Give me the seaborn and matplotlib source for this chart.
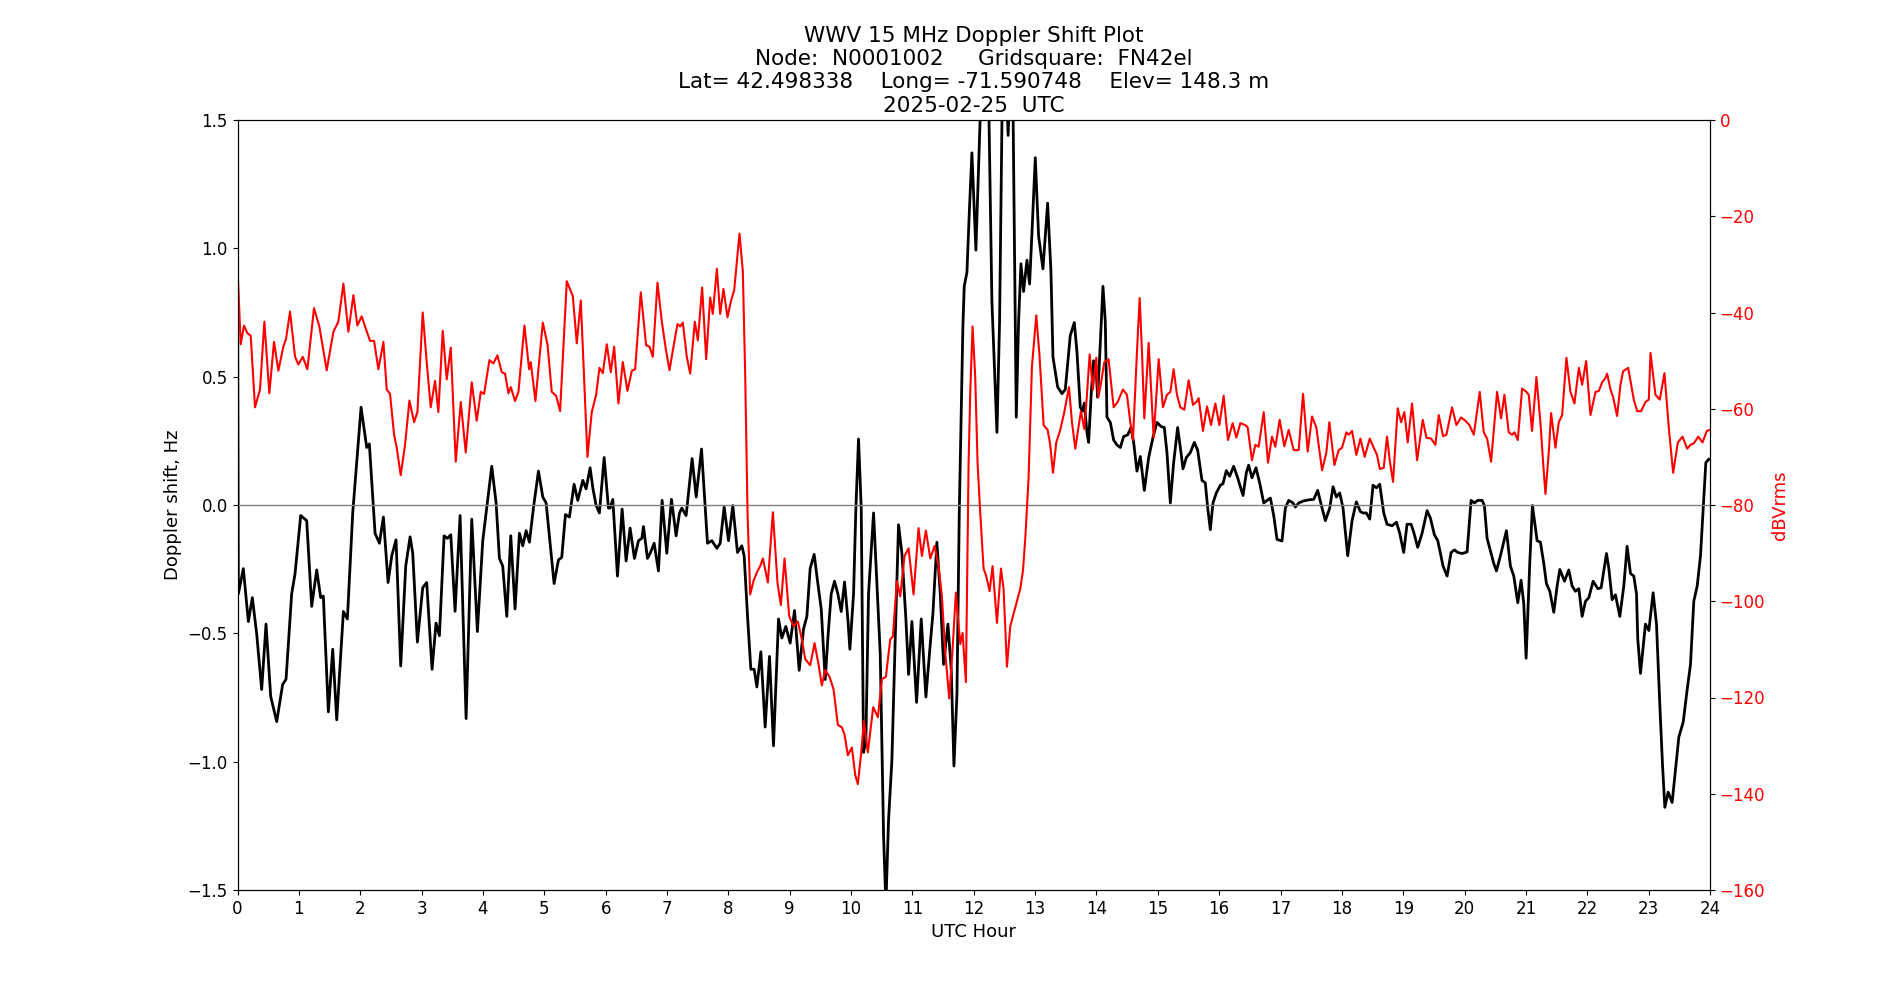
import matplotlib
matplotlib.use('Agg')
import matplotlib.pyplot as plt
import seaborn as sns

# Doppler 频移 (Hz)，按UTC小时读取
doppler_hours = [
    0.000, 0.014, 0.095, 0.177, 0.242, 0.313, 0.394, 0.465, 0.541, 0.639, 0.736, 0.791, 0.883, 0.938,
    1.030, 1.128, 1.209, 1.291, 1.356, 1.399, 1.481, 1.552, 1.617, 1.726, 1.791, 1.878, 2.014, 2.106,
    2.149, 2.242, 2.313, 2.378, 2.454, 2.514, 2.584, 2.660, 2.742, 2.813, 2.856, 2.932,
    3.019, 3.084, 3.171, 3.236, 3.291, 3.367, 3.421, 3.476, 3.546, 3.628, 3.726, 3.818, 3.910, 3.997,
    4.062, 4.144, 4.215, 4.269, 4.323, 4.389, 4.454, 4.524, 4.595, 4.649, 4.704, 4.758, 4.823, 4.905,
    4.976, 5.030, 5.095, 5.160, 5.231, 5.285, 5.345, 5.410, 5.486, 5.546, 5.628, 5.682, 5.747,
    5.791, 5.845, 5.899, 5.976, 6.046, 6.073, 6.117, 6.193, 6.269, 6.334, 6.399, 6.470, 6.535, 6.590,
    6.617, 6.682, 6.726, 6.791, 6.861, 6.921, 6.997, 7.073, 7.149, 7.204, 7.242, 7.312, 7.410, 7.476,
    7.563, 7.660, 7.731, 7.813, 7.867, 7.932, 8.003, 8.073, 8.149, 8.220, 8.258, 8.313, 8.367, 8.421,
    8.465, 8.530, 8.600, 8.671, 8.736,
    8.818, 8.872, 8.937, 9.008, 9.079, 9.155, 9.226, 9.280, 9.334, 9.399, 9.459, 9.514, 9.579, 9.633,
    9.677, 9.731, 9.785, 9.840, 9.894, 9.948, 9.981, 10.041, 10.079, 10.122, 10.166, 10.204, 10.242,
    10.285, 10.367, 10.421, 10.476, 10.530, 10.568, 10.611, 10.666, 10.720, 10.774, 10.829, 10.894,
    10.938, 10.992, 11.068, 11.144, 11.220, 11.291, 11.334, 11.399, 11.454, 11.508, 11.579, 11.633,
    11.677, 11.726, 11.764,
    11.823, 11.845, 11.889, 11.932, 11.970, 12.035, 12.079, 12.117, 12.171, 12.242, 12.296, 12.378,
    12.421, 12.465, 12.510, 12.560, 12.600, 12.640, 12.693, 12.731, 12.769, 12.812, 12.867, 12.910,
    12.948, 13.003, 13.057, 13.128, 13.204, 13.258, 13.291, 13.329, 13.367, 13.438, 13.492, 13.530,
    13.573, 13.639, 13.682, 13.736, 13.774, 13.802, 13.845, 13.872, 13.916, 13.954, 13.997, 14.019,
    14.052, 14.106, 14.144, 14.171, 14.226, 14.280, 14.334, 14.389, 14.443, 14.508, 14.563, 14.606,
    14.660, 14.715,
    14.780, 14.851, 14.921, 14.986, 15.052, 15.106, 15.149, 15.204, 15.258, 15.323, 15.378, 15.410,
    15.465, 15.530, 15.595, 15.649, 15.720, 15.774, 15.813, 15.856, 15.899, 15.954, 16.019, 16.062,
    16.117, 16.171, 16.236, 16.302, 16.345, 16.389, 16.443, 16.481, 16.535, 16.601, 16.660, 16.726,
    16.780, 16.835, 16.889, 16.943, 17.024, 17.079, 17.133, 17.204, 17.242, 17.296, 17.378, 17.459,
    17.541, 17.606, 17.677, 17.731, 17.802, 17.856,
    17.910, 17.965, 18.019, 18.095, 18.166, 18.236, 18.302, 18.345, 18.399, 18.454, 18.508, 18.563,
    18.617, 18.682, 18.736, 18.818, 18.889, 18.943, 19.008, 19.062, 19.128, 19.171, 19.236, 19.307,
    19.389, 19.443, 19.508, 19.563, 19.606, 19.649, 19.715, 19.780, 19.834, 19.889, 19.959, 20.041,
    20.106, 20.160, 20.215, 20.285, 20.323, 20.367, 20.421, 20.476, 20.519, 20.584,
    20.682, 20.747, 20.802, 20.867, 20.921, 20.965, 21.003, 21.062, 21.106, 21.182, 21.236, 21.291,
    21.334, 21.389, 21.454, 21.508, 21.552, 21.628, 21.698, 21.753, 21.807, 21.862, 21.916, 21.971,
    22.025, 22.095, 22.171, 22.226, 22.313, 22.351, 22.405, 22.459, 22.530, 22.595, 22.649, 22.704,
    22.758, 22.802, 22.823, 22.867, 22.910, 22.948, 23.003, 23.073, 23.128, 23.182, 23.226, 23.264,
    23.318, 23.383, 23.438, 23.492, 23.563, 23.628, 23.682, 23.736, 23.791, 23.845, 23.889, 23.932,
    23.981, 24.000,
]
doppler_hz = [
    0.98, -0.346, -0.248, -0.454, -0.361, -0.503, -0.719, -0.464, -0.746, -0.844, -0.699, -0.679, -0.346, -0.267,
    -0.041, -0.061, -0.395, -0.253, -0.361, -0.355, -0.806, -0.562, -0.837, -0.415, -0.444, -0.031, 0.381, 0.224,
    0.238, -0.110, -0.149, -0.047, -0.302, -0.198, -0.136, -0.627, -0.238, -0.124, -0.188, -0.534,
    -0.322, -0.302, -0.640, -0.460, -0.509, -0.120, -0.130, -0.116, -0.414, -0.041, -0.832, -0.055, -0.493, -0.140,
    -0.012, 0.151, 0.008, -0.208, -0.238, -0.434, -0.120, -0.405, -0.110, -0.159, -0.100, -0.145, -0.012, 0.132,
    0.031, 0.008, -0.149, -0.306, -0.214, -0.204, -0.037, -0.047, 0.081, 0.018, 0.096, 0.063, 0.145,
    0.067, -0.002, -0.031, 0.185, -0.012, -0.012, 0.022, -0.277, -0.016, -0.218, -0.090, -0.208, -0.139, -0.130,
    -0.084, -0.208, -0.188, -0.149, -0.257, 0.018, -0.188, 0.022, -0.120, -0.031, -0.012, -0.041, 0.181, 0.031,
    0.218, -0.149, -0.139, -0.169, -0.149, -0.008, -0.139, -0.002, -0.185, -0.159, -0.198, -0.434, -0.640, -0.640,
    -0.709, -0.572, -0.865, -0.590, -0.938,
    -0.444, -0.518, -0.473, -0.538, -0.411, -0.644, -0.483, -0.434, -0.247, -0.192, -0.306, -0.405, -0.680, -0.483,
    -0.346, -0.297, -0.346, -0.415, -0.300, -0.444, -0.562, -0.346, -0.012, 0.257, -0.012, -0.964, -0.915,
    -0.346, -0.031, -0.306, -0.581, -1.288, -1.560, -1.229, -0.993, -0.522, -0.077, -0.188, -0.444,
    -0.660, -0.454, -0.769, -0.444, -0.748, -0.542, -0.424, -0.145, -0.346, -0.621, -0.464, -0.640,
    -1.017, -0.738, -0.031,
    0.695, 0.852, 0.907, 1.166, 1.372, 0.993, 1.321, 1.600, 1.900, 1.600, 0.793, 0.283,
    0.715, 1.600, 1.800, 1.440, 1.700, 1.550, 0.342, 0.715, 0.940, 0.832, 0.954, 0.861,
    1.057, 1.353, 1.048, 0.920, 1.176, 0.911, 0.577, 0.519, 0.460, 0.434, 0.450, 0.548,
    0.660, 0.711, 0.597, 0.381, 0.366, 0.397, 0.283, 0.244, 0.440, 0.562, 0.519, 0.420,
    0.577, 0.852, 0.715, 0.342, 0.322, 0.253, 0.234, 0.224, 0.267, 0.273, 0.302, 0.244,
    0.132, 0.189,
    0.057, 0.185, 0.263, 0.322, 0.306, 0.302, 0.204, 0.008, 0.165, 0.302, 0.204, 0.141,
    0.185, 0.204, 0.244, 0.214, 0.096, 0.086, -0.012, -0.096, 0.008, 0.047, 0.077, 0.083,
    0.134, 0.112, 0.151, 0.106, 0.071, 0.037, 0.126, 0.155, 0.106, 0.145, 0.086, 0.008,
    0.018, 0.027, -0.041, -0.134, -0.140, -0.012, 0.018, 0.008, -0.008, 0.008, 0.016, 0.020,
    0.022, 0.057, -0.012, -0.061, -0.012, 0.071,
    0.031, 0.047, -0.012, -0.198, -0.061, 0.012, -0.026, -0.031, -0.031, -0.055, 0.077, 0.067,
    0.081, -0.031, -0.075, -0.081, -0.067, -0.110, -0.185, -0.075, -0.075, -0.106, -0.165, -0.110,
    -0.022, -0.051, -0.116, -0.139, -0.189, -0.238, -0.277, -0.185, -0.175, -0.185, -0.189, -0.183,
    0.018, 0.008, 0.018, 0.018, -0.002, -0.130, -0.179, -0.228, -0.257, -0.198,
    -0.100, -0.238, -0.277, -0.381, -0.293, -0.385, -0.597, -0.228, -0.002, -0.139, -0.145, -0.228,
    -0.306, -0.336, -0.418, -0.316, -0.251, -0.297, -0.253, -0.316, -0.336, -0.326, -0.434, -0.375,
    -0.361, -0.297, -0.326, -0.322, -0.189, -0.247, -0.369, -0.350, -0.434, -0.316, -0.161, -0.267,
    -0.277, -0.346, -0.523, -0.656, -0.552, -0.464, -0.489, -0.342, -0.464, -0.778, -1.013, -1.178,
    -1.119, -1.159, -1.032, -0.904, -0.846, -0.719, -0.621, -0.375, -0.316, -0.198, -0.012, 0.165,
    0.179, 0.179,
]

# 信号强度 (dBVrms)
power_hours = [
    0.000, 0.052, 0.106, 0.160, 0.215, 0.285, 0.367, 0.438, 0.519, 0.595, 0.666, 0.747, 0.791, 0.856,
    0.938, 0.992, 1.063, 1.139, 1.247, 1.334, 1.454, 1.563, 1.644, 1.726, 1.807, 1.889, 1.954, 2.024,
    2.079, 2.160, 2.226, 2.296, 2.378, 2.432, 2.486, 2.552, 2.595, 2.660, 2.731, 2.802,
    2.878, 2.932, 3.019, 3.084, 3.149, 3.220, 3.274, 3.345, 3.410, 3.476, 3.557, 3.639, 3.720, 3.818,
    3.899, 3.965, 4.019, 4.106, 4.171, 4.236, 4.307, 4.361, 4.416, 4.454, 4.524, 4.579, 4.677, 4.753,
    4.780, 4.856, 4.976, 5.052, 5.122, 5.193, 5.258, 5.367, 5.465, 5.530, 5.595, 5.704, 5.774,
    5.845, 5.899, 5.954, 6.019, 6.084, 6.139, 6.209, 6.280, 6.356, 6.427, 6.481, 6.573, 6.660, 6.715,
    6.769, 6.845, 6.916, 6.986, 7.041, 7.106, 7.171, 7.215, 7.258, 7.323, 7.378, 7.454, 7.503, 7.573,
    7.639, 7.704, 7.747, 7.813, 7.867, 7.921, 7.986, 8.041, 8.095, 8.182, 8.236, 8.274, 8.313, 8.356,
    8.410, 8.465, 8.519, 8.563, 8.644, 8.726, 8.802, 8.856,
    8.916, 8.992, 9.062, 9.133, 9.198, 9.253, 9.334, 9.405, 9.470, 9.524, 9.579, 9.650, 9.715, 9.785,
    9.851, 9.894, 9.948, 10.014, 10.068, 10.111, 10.166, 10.209, 10.274, 10.361, 10.438, 10.503,
    10.568, 10.639, 10.682, 10.747, 10.802, 10.872, 10.938, 11.019, 11.100, 11.155, 11.220, 11.291,
    11.361, 11.427, 11.481, 11.535, 11.600, 11.655, 11.709, 11.780, 11.818, 11.872,
    11.916, 11.943, 11.981, 12.024, 12.062, 12.106, 12.160, 12.204, 12.258, 12.307, 12.378, 12.443,
    12.486, 12.541, 12.595, 12.639, 12.704, 12.758, 12.802, 12.840, 12.894, 12.948, 13.019, 13.073,
    13.139, 13.204, 13.247, 13.291, 13.345, 13.410, 13.476, 13.552, 13.601, 13.655, 13.693, 13.747,
    13.802, 13.845, 13.889, 13.943, 13.997, 14.030, 14.073, 14.128, 14.198, 14.280, 14.345, 14.432,
    14.497, 14.552, 14.595, 14.660, 14.704, 14.742,
    14.780, 14.851, 14.932, 15.014, 15.084, 15.149, 15.204, 15.258, 15.312, 15.367, 15.432, 15.503,
    15.574, 15.628, 15.666, 15.736, 15.802, 15.867, 15.938, 16.003, 16.073, 16.144, 16.220, 16.280,
    16.345, 16.427, 16.465, 16.535, 16.590, 16.644, 16.726, 16.796, 16.861, 16.916, 16.986, 17.062,
    17.133, 17.215, 17.296, 17.367, 17.443, 17.514, 17.584, 17.677,
    17.747, 17.796, 17.878, 17.948, 18.003, 18.073, 18.111, 18.166, 18.236, 18.302, 18.372, 18.454,
    18.519, 18.573, 18.617, 18.682, 18.736, 18.780, 18.834, 18.910, 18.965, 19.019, 19.073, 19.144,
    19.226, 19.318, 19.378, 19.454, 19.524, 19.579, 19.649, 19.704, 19.796, 19.867, 19.943, 20.014,
    20.079, 20.150, 20.247, 20.312, 20.367, 20.432, 20.530, 20.595,
    20.649, 20.720, 20.774, 20.812, 20.867, 20.938, 21.008, 21.046, 21.100, 21.171, 21.236, 21.280,
    21.318, 21.372, 21.410, 21.481, 21.535, 21.590, 21.660, 21.726, 21.791, 21.862, 21.916, 21.981,
    22.052, 22.134, 22.188, 22.242, 22.296, 22.323, 22.378, 22.421, 22.486, 22.541, 22.584, 22.666,
    22.715, 22.758, 22.813, 22.878, 22.948, 23.003, 23.030, 23.111, 23.182, 23.258, 23.329, 23.399,
    23.476, 23.552, 23.628, 23.682, 23.736, 23.808, 23.878, 23.948, 24.000,
]
power_db = [
    -30.4, -46.6, -42.7, -44.3, -44.8, -59.7, -56.0, -41.9, -56.8, -46.1, -52.1, -47.1, -45.5, -39.8,
    -49.2, -50.8, -49.2, -51.8, -39.1, -42.9, -52.0, -44.0, -41.9, -34.0, -44.0, -36.4, -42.7, -40.8,
    -42.9, -45.9, -45.9, -51.8, -46.1, -56.0, -56.9, -65.4, -68.1, -73.8, -67.5, -58.3,
    -62.8, -60.7, -40.0, -50.3, -59.7, -54.2, -60.7, -43.8, -53.9, -47.3, -71.0, -58.6, -69.1, -54.5,
    -62.5, -56.5, -56.9, -49.9, -50.6, -48.9, -52.4, -52.7, -56.8, -55.5, -58.4, -56.5, -42.7, -51.8,
    -50.3, -58.4, -42.1, -46.6, -56.5, -57.3, -60.5, -33.5, -36.6, -46.4, -37.5, -70.0, -60.7,
    -57.1, -51.5, -52.6, -46.6, -52.4, -47.1, -58.9, -50.3, -56.3, -52.1, -51.8, -35.8, -46.8, -47.1,
    -49.2, -33.8, -41.9, -48.0, -52.0, -47.1, -42.4, -42.9, -42.1, -49.2, -52.7, -41.9, -45.8, -34.8,
    -49.7, -36.9, -40.3, -30.9, -40.3, -35.1, -41.0, -37.7, -35.4, -23.6, -31.4, -52.4, -81.7, -98.6,
    -95.8, -94.0, -92.7, -91.1, -96.1, -81.5, -96.3, -100.8,
    -91.1, -103.1, -105.2, -104.2, -107.9, -112.0, -113.3, -108.7, -113.1, -117.5, -114.3, -115.7, -118.3, -125.7,
    -126.2, -127.7, -132.0, -130.4, -136.1, -138.0, -131.4, -124.8, -131.4, -122.0, -124.1, -116.2,
    -115.7, -107.9, -107.3, -95.8, -99.0, -90.6, -89.0, -98.6, -84.8, -90.6, -85.3, -91.1,
    -88.5, -92.7, -99.0, -110.5, -120.2, -109.9, -98.2, -108.9, -106.6, -116.8,
    -71.2, -56.5, -42.9, -53.4, -71.2, -81.7, -93.2, -94.8, -97.9, -92.7, -104.5, -93.2,
    -97.4, -113.6, -105.2, -103.1, -100.0, -97.4, -93.7, -86.9, -74.3, -51.3, -40.6, -49.2,
    -63.4, -64.4, -67.5, -73.3, -67.0, -64.4, -60.7, -55.5, -62.8, -68.3, -65.0, -60.5,
    -64.2, -57.1, -48.7, -56.0, -49.4, -57.6, -54.8, -50.3, -49.7, -59.7, -58.6, -56.0,
    -57.1, -62.8, -66.5, -48.2, -37.0, -48.2,
    -62.0, -46.3, -66.0, -49.7, -59.7, -57.1, -56.5, -51.8, -57.1, -59.7, -60.2, -54.1,
    -59.2, -58.6, -57.8, -64.6, -59.5, -63.4, -58.9, -63.4, -57.3, -66.5, -63.0, -66.0,
    -63.0, -63.4, -63.9, -70.7, -67.5, -67.9, -60.7, -71.2, -65.8, -67.9, -62.3, -67.8,
    -64.4, -68.6, -68.6, -56.9, -68.9, -61.6, -63.9, -72.8,
    -69.1, -62.8, -71.7, -68.6, -68.1, -64.9, -65.4, -64.6, -69.6, -66.2, -70.0, -66.2,
    -68.1, -69.6, -72.5, -72.3, -65.8, -70.7, -75.2, -59.9, -62.8, -60.7, -67.0, -58.9,
    -70.7, -62.3, -66.0, -66.2, -67.5, -61.3, -65.7, -65.4, -59.7, -63.4, -61.8, -62.5,
    -63.4, -65.4, -56.5, -64.9, -66.2, -71.0, -56.5, -62.0,
    -57.1, -64.9, -65.4, -64.9, -66.5, -55.8, -56.5, -57.1, -64.6, -53.4, -62.8, -71.2,
    -77.7, -69.1, -60.9, -68.1, -62.8, -61.3, -49.4, -56.5, -58.9, -51.5, -55.0, -50.1,
    -61.3, -56.5, -56.3, -54.5, -53.6, -52.7, -56.0, -57.6, -61.5, -55.0, -52.2, -51.5,
    -55.0, -58.1, -60.5, -60.5, -58.6, -58.1, -48.4, -57.1, -58.1, -52.6, -64.0, -73.3,
    -67.0, -65.8, -68.3, -67.5, -67.2, -65.8, -67.0, -64.6, -64.4,
]

x_ticks = list(range(0, 25))

title_text = ('WWV 15 MHz Doppler Shift Plot\n'
              'Node:  N0001002     Gridsquare:  FN42el\n'
              'Lat= 42.498338    Long= -71.590748    Elev= 148.3 m\n'
              '2025-02-25  UTC')

plt.rcParams['font.family'] = ['DejaVu Sans']

fig, ax = plt.subplots(figsize=(19, 10), dpi=100)

# 多普勒频移曲线
sns.lineplot(x=doppler_hours, y=doppler_hz, ax=ax, color='black', linewidth=2,
             estimator=None, sort=False, solid_joinstyle='round')
ax.axhline(0, color='gray', linewidth=1)
ax.set_xlim(0, 24)
ax.set_ylim(-1.5, 1.5)
ax.set_xticks(x_ticks)
ax.set_xlabel('UTC Hour', fontsize=13)
ax.set_ylabel('Doppler shift, Hz', fontsize=13)
ax.tick_params(labelsize=12)
ax.set_title(title_text, fontsize=15.5)

# 右轴：信号强度
ax2 = ax.twinx()
sns.lineplot(x=power_hours, y=power_db, ax=ax2, color='red', linewidth=1.5,
             estimator=None, sort=False, solid_joinstyle='round')
ax2.set_ylim(-160, 0)
ax2.set_yticks(range(-160, 1, 20))
ax2.set_ylabel('dBVrms', color='red', fontsize=13)
ax2.tick_params(axis='y', labelcolor='red', labelsize=12)
ax2.set_xlim(0, 24)

plt.savefig('out.png', dpi=100)
plt.close()
